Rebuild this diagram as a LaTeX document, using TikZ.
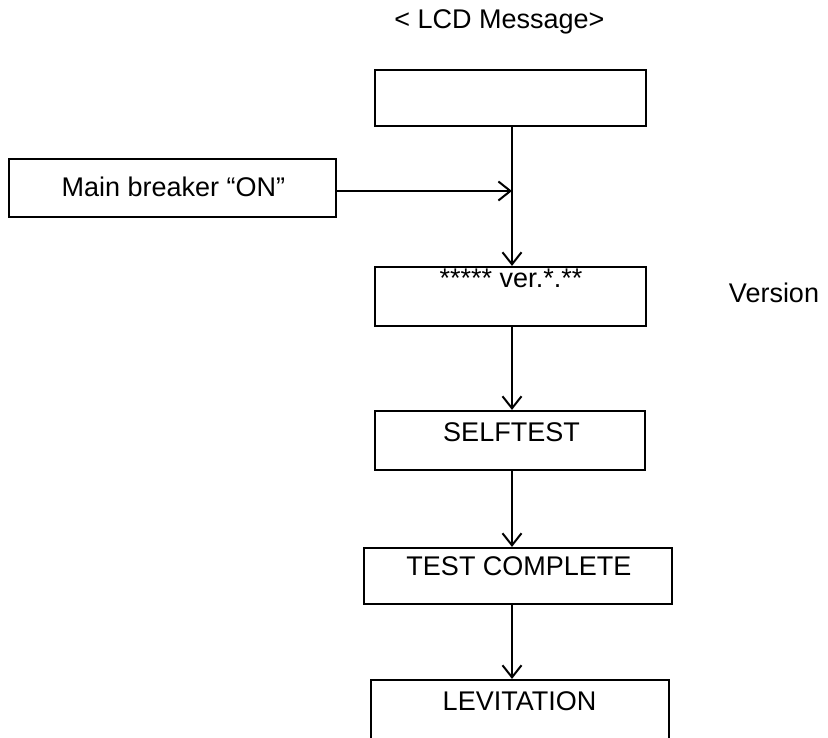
\documentclass[tikz,border=0pt]{standalone}
\usepackage{fontspec}
\setmainfont{Liberation Sans}
\usetikzlibrary{arrows.meta}
\begin{document}
\begin{tikzpicture}[x=1pt,y=-1pt,
  box/.style={draw, line width=2.2pt, rectangle, inner sep=0pt},
  conn/.style={line width=2pt, -{Straight Barb[length=12pt,width=19pt,line width=2pt]}},
  txt/.style={font=\fontsize{27}{32}\selectfont, anchor=base, inner sep=0pt}]
\useasboundingbox (0,0) rectangle (828,738);
\clip (0,0) rectangle (828,738);
% boxes
\node[box, minimum width=271pt, minimum height=56pt] (top) at (510.5,98) {};
\node[box, minimum width=327pt, minimum height=58pt] (mb) at (172.5,188) {};
\node[box, minimum width=271pt, minimum height=59pt] (ver) at (510.5,296.5) {};
\node[box, minimum width=270pt, minimum height=59pt] (self) at (510,440.5) {};
\node[box, minimum width=308pt, minimum height=56pt] (tc) at (518,576) {};
\node[box, minimum width=298pt, minimum height=60pt] (lev) at (520,710) {};
% texts
\node[txt] (title) at (499.5,29) {< LCD Message>};
\node[txt] (mbt) at (173.5,196.7) {Main breaker “ON”};
\node[txt] (vert) at (511,288) {***** ver.*.**};
\node[txt] (verlbl) at (774,303) {Version};
\node[txt] (selft) at (511.5,441) {SELFTEST};
\node[txt] (tct) at (519,575) {TEST COMPLETE};
\node[txt] (levt) at (519.5,710) {LEVITATION};
% connectors
\coordinate (j) at (512,191);
\draw[conn] (top.south -| j) -- (ver.north -| j);
\draw[conn] (mb.east |- j) -- (j);
\draw[conn] (ver.south -| j) -- (self.north -| j);
\draw[conn] (self.south -| j) -- (tc.north -| j);
\draw[conn] (tc.south -| j) -- (lev.north -| j);
\end{tikzpicture}
\end{document}
